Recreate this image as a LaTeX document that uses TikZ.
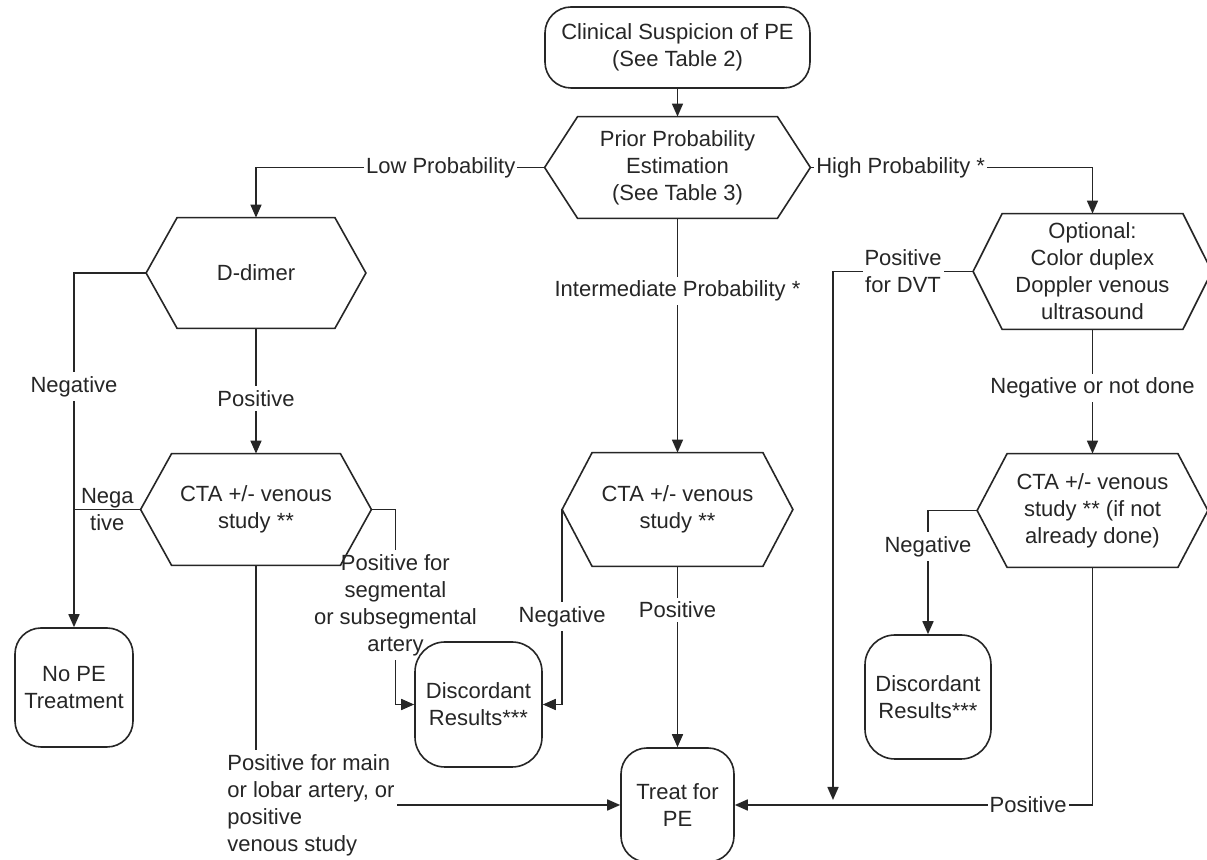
\documentclass[tikz,border=0pt]{standalone}
\usepackage{fontspec}
\setmainfont{Liberation Sans}
\usetikzlibrary{arrows.meta,positioning,calc,backgrounds}

\begin{document}
\begin{tikzpicture}[
    x=0.5pt, y=-0.5pt,
    every node/.style={font=\fontsize{11}{13.5}\selectfont, text=black!85},
    box/.style={draw=black!85, line width=0.8pt, rounded corners=13pt, align=center, inner sep=0pt},
    hexa/.style={align=center, inner sep=0pt, append after command={\pgfextra{\draw[line width=0.8pt, draw=black!85] (\tikzlastnode.west) -- ([xshift=#1]\tikzlastnode.north west) -- ([xshift=-#1]\tikzlastnode.north east) -- (\tikzlastnode.east) -- ([xshift=-#1]\tikzlastnode.south east) -- ([xshift=#1]\tikzlastnode.south west) -- cycle;}}},
    arr/.style={-{Triangle[length=6.5pt,width=5.5pt]}, line width=0.8pt, draw=black!85},
    lin/.style={line width=0.8pt, draw=black!85},
    lbl/.style={fill=white, inner xsep=1pt, inner ysep=2pt, align=center}
]
\useasboundingbox (0,0) rectangle (1207,860);

\node[box, minimum width=132.5pt, minimum height=40.5pt] (start) at (677.5,47.5) {Clinical Suspicion of PE\\(See Table 2)};
\node[hexa=16.5pt, minimum width=132.5pt, minimum height=50.5pt] (prior) at (677.5,167.5) {Prior Probability\\Estimation\\(See Table 3)};
\node[hexa=15.5pt, minimum width=109.5pt, minimum height=55pt] (ddimer) at (256,273) {D-dimer};
\node[hexa=15.5pt, minimum width=115pt, minimum height=55.5pt] (cta1) at (256,509.5) {CTA +/- venous\\study **};
\node[hexa=15pt, minimum width=115pt, minimum height=56.5pt] (cta2) at (677.5,509.5) {CTA +/- venous\\study **};
\node[hexa=14.5pt, minimum width=119pt, minimum height=57.5pt] (opt) at (1092.5,271.5) {Optional:\\Color duplex\\Doppler venous\\ultrasound};
\node[hexa=15pt, minimum width=115pt, minimum height=56.5pt] (cta3) at (1092.5,510.5) {CTA +/- venous\\study ** (if not\\already done)};
\node[box, minimum width=59pt, minimum height=59.5pt] (nope) at (74,687.5) {No PE\\Treatment};
\node[box, rounded corners=15pt, minimum width=63.5pt, minimum height=62.5pt] (disc1) at (478.5,704.5) {Discordant\\Results***};
\node[box, rounded corners=15pt, minimum width=63pt, minimum height=62pt] (disc2) at (928,697) {Discordant\\Results***};
\node[box, minimum width=56.5pt, minimum height=57pt] (treat) at (677.5,805) {Treat for\\PE};
\coordinate (dvt) at (833,800);

\begin{scope}[on background layer]
\fill[white] (0,0) rectangle (1207,860);
\draw[arr] (start) -- (prior);
\draw[arr] (prior.west) -| node[lbl, pos=0.18] {Low Probability} (ddimer.north);
\draw[arr] (prior.east) -| node[lbl, pos=0.16] {High Probability *} (opt.north);
\draw[arr] (prior) -- node[lbl, pos=0.31] {Intermediate Probability *} (cta2);
\draw[arr] (ddimer) -- node[lbl, pos=0.56] {Positive} (cta1);
\draw[arr] (ddimer.west) -| node[lbl, pos=0.66] {Negative} (nope.north);
\draw[lin] (cta1.west) -- node[lbl, fill=none] {Nega\\tive} (cta1.west -| nope.north);
\draw[arr] (cta1.east) -- ++(24,0) |- node[lbl, pos=0.245] {Positive for\\segmental\\or subsegmental\\artery} (disc1.west);
\draw[arr] (cta1.south) |- node[lbl, align=left, pos=0.5, xshift=27.5pt] {Positive for main\\or lobar artery, or\\positive\\venous study} (treat.west);
\draw[arr] (cta2.west) |- node[lbl, pos=0.275] {Negative} (disc1.east);
\draw[arr] (cta2) -- node[lbl, pos=0.24] {Positive} (treat);
\draw[arr] (opt.west) -| node[lbl, pos=0.25] {Positive\\for DVT} (dvt);
\draw[arr] (opt) -- node[lbl, pos=0.47] {Negative or not done} (cta3);
\draw[arr] (cta3.west) -| node[lbl, pos=0.645] {Negative} (disc2.north);
\draw[arr] (cta3.south) |- node[lbl, pos=0.59] {Positive} (treat.east);
\end{scope}
\end{tikzpicture}
\end{document}
